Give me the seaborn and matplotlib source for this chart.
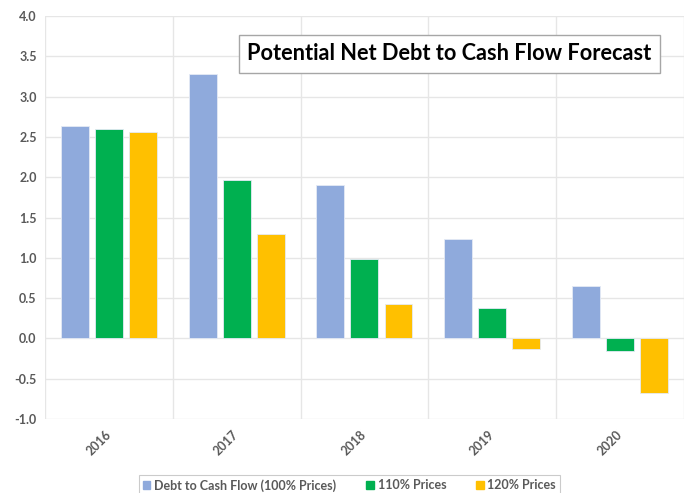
import pandas as pd
import matplotlib.pyplot as plt
import seaborn as sns

# valorile
ani = ['2016', '2017', '2018', '2019', '2020']
serii = ['Debt to Cash Flow (100% Prices)', '110% Prices', '120% Prices']
pret_100 = [2.64, 3.28, 1.90, 1.23, 0.65]
pret_110 = [2.60, 1.97, 0.98, 0.38, -0.16]
pret_120 = [2.56, 1.29, 0.43, -0.13, -0.68]
culori = ['#8FAADC', '#00B050', '#FFC000']

df = pd.DataFrame({
    'An': ani * 3,
    'Serie': [serii[0]] * 5 + [serii[1]] * 5 + [serii[2]] * 5,
    'Valoare': pret_100 + pret_110 + pret_120,
})

sns.set_style('white')
plt.rcParams['font.family'] = ['Lato', 'DejaVu Sans']

fig = plt.figure(figsize=(6.84, 4.93), dpi=100)
ax = fig.add_axes([0.0658, 0.150, 0.934, 0.8175])

sns.barplot(data=df, x='An', y='Valoare', hue='Serie', palette=culori,
            saturation=1, width=0.8, gap=0.18, ax=ax,
            edgecolor='#E4EAF5', linewidth=0.6, legend=True)

ax.set_xlim(-0.5, 4.5)
ax.set_ylim(-1.0, 4.0)
ax.set_yticks([-1.0, -0.5, 0.0, 0.5, 1.0, 1.5, 2.0, 2.5, 3.0, 3.5, 4.0])
ax.set_yticklabels([f'{v:.1f}' for v in ax.get_yticks()])
ax.set_xticks(range(5), minor=False)
ax.set_xticks([-0.5, 0.5, 1.5, 2.5, 3.5, 4.5], minor=True)
ax.grid(axis='y', which='major', color='#E6E6E6', linewidth=1)
ax.grid(axis='x', which='minor', color='#E6E6E6', linewidth=1)
ax.set_axisbelow(True)
for s in ax.spines.values():
    s.set_visible(False)
ax.tick_params(which='both', length=0)
ax.tick_params(axis='y', labelsize=9, labelcolor='#595959', pad=6)
ax.tick_params(axis='x', labelsize=9, labelcolor='#595959', pad=10)
for t in ax.get_yticklabels():
    t.set_fontweight('bold')
for t in ax.get_xticklabels():
    t.set_fontweight('bold')
    t.set_rotation(45)
    t.set_ha('right')
    t.set_va('center')
    t.set_rotation_mode('anchor')
ax.set_xlabel('')
ax.set_ylabel('')

# titlul in caseta
ax.text(0.657, 0.8905, 'Potential Net Debt to Cash Flow Forecast',
        transform=fig.transFigure, ha='center', va='center',
        fontsize=15.7, fontweight='bold', color='black',
        bbox=dict(boxstyle='square,pad=0.4', facecolor='white', edgecolor='#A6A6A6', linewidth=1))

# legenda jos
ax.get_legend().remove()
handles = [plt.Rectangle((0, 0), 1, 1, color=c) for c in culori]
leg = fig.legend(handles, serii, loc='upper center', bbox_to_anchor=(0.511, 0.0375),
                 borderaxespad=0, ncol=3, frameon=True, fancybox=False, edgecolor='#BFBFBF',
                 fontsize=9, handlelength=0.6, handleheight=0.6, handletextpad=0.3,
                 columnspacing=2.4, borderpad=0.35)
leg.get_frame().set_linewidth(0.8)
for t in leg.get_texts():
    t.set_color('#595959')
    t.set_fontweight('bold')

fig.savefig('out.png', dpi=100)
